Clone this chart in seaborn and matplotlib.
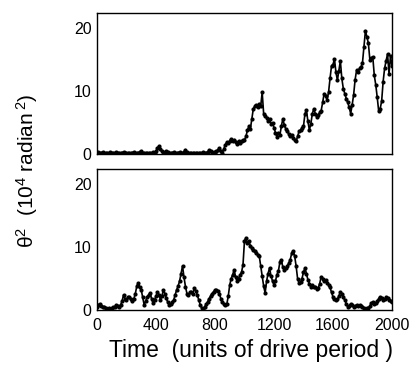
import numpy as np
import pandas as pd
import matplotlib
matplotlib.use("Agg")
import matplotlib.pyplot as plt
import seaborn as sns

time = list(range(0, 2001, 10))

theta2_top = [
    0.2, 0.3, 0.1, 0.2, 0.3, 0.1, 0.2, 0.2, 0.1, 0.3, 0.2, 0.1, 0.2, 0.3, 0.1, 0.2, 0.1, 0.2, 0.3, 0.1,
    0.2, 0.1, 0.2, 0.1, 0.2, 0.3, 0.2, 0.1, 0.2, 0.3, 0.5, 0.2, 0.1, 0.2, 0.1, 0.2, 0.1, 0.2, 0.3, 0.2,
    0.4, 0.9, 1.3, 0.8, 0.4, 0.3, 0.2, 0.5, 0.3, 0.2, 0.1, 0.2, 0.3, 0.2, 0.1, 0.2, 0.3, 0.2, 0.2, 0.3,
    0.7, 0.3, 0.2, 0.1, 0.2, 0.1, 0.1, 0.2, 0.1, 0.2, 0.1, 0.2, 0.3, 0.1, 0.2, 0.3, 0.6, 0.4, 0.2, 0.3,
    0.2, 0.4, 0.6, 0.9, 0.5, 0.2, 0.8, 1.5, 1.9, 1.7, 2.1, 2.4, 2.0, 2.3, 1.9, 1.6, 2.0, 1.8, 2.1, 2.2,
    2.2, 2.8, 3.8, 4.4, 4.0, 5.6, 7.2, 7.6, 7.8, 7.4, 8.0, 7.6, 9.8, 6.4, 6.0, 5.8, 5.2, 5.6, 4.8, 5.0,
    4.2, 3.4, 2.7, 3.4, 3.0, 4.4, 5.6, 4.6, 4.0, 3.6, 3.2, 2.9, 3.1, 2.6, 2.2, 2.0, 2.8, 3.6, 3.8, 4.1,
    4.4, 6.4, 7.0, 5.2, 3.8, 4.8, 6.4, 7.2, 6.4, 5.9, 6.2, 6.6, 6.9, 8.2, 9.6, 9.2, 8.6, 9.8, 12.0, 14.0,
    14.2, 15.1, 13.0, 11.7, 13.2, 14.8, 12.0, 10.4, 9.6, 8.8, 8.2, 7.4, 6.4, 7.8, 9.4, 11.8, 13.3, 13.0, 13.6, 13.8,
    14.5, 17.0, 19.6, 18.6, 17.6, 15.0, 15.2, 15.4, 12.5, 11.0, 9.0, 6.8, 7.2, 8.4, 11.5, 13.6, 14.8, 15.9, 12.7, 15.6,
    14.0,
]

theta2_bottom = [
    0.5, 0.8, 1.0, 0.7, 0.5, 0.4, 0.3, 0.2, 0.3, 0.2, 0.3, 0.4, 0.5, 0.8, 0.6, 0.5, 0.8, 1.4, 2.4, 1.8,
    1.6, 2.1, 2.0, 1.8, 1.5, 1.8, 2.6, 3.8, 4.3, 3.6, 3.2, 2.0, 0.8, 1.4, 2.1, 2.4, 2.7, 1.8, 1.1, 1.6,
    2.2, 2.9, 2.4, 1.6, 2.2, 3.2, 2.6, 1.9, 1.2, 0.8, 0.9, 1.3, 1.6, 2.4, 3.2, 3.8, 4.6, 5.8, 7.0, 5.2,
    3.7, 2.6, 2.4, 2.8, 2.9, 2.6, 3.5, 3.0, 2.4, 1.6, 0.8, 0.3, 0.2, 0.5, 0.9, 1.3, 1.8, 2.2, 2.6, 2.9,
    3.1, 3.2, 3.0, 2.6, 1.8, 1.2, 1.0, 0.8, 0.9, 2.2, 4.0, 5.0, 5.6, 6.4, 5.2, 4.6, 5.0, 5.6, 6.0, 7.2,
    11.0, 11.5, 10.6, 10.9, 10.2, 9.9, 9.6, 9.4, 9.0, 8.8, 8.6, 7.0, 5.4, 3.8, 2.7, 4.6, 5.8, 6.7, 5.4, 4.6,
    4.0, 4.6, 5.6, 6.2, 7.6, 8.0, 6.8, 6.4, 6.6, 7.0, 7.4, 8.0, 9.0, 9.4, 8.6, 7.0, 5.0, 4.3, 4.4, 5.0,
    6.0, 6.7, 5.8, 4.8, 4.2, 3.7, 3.9, 3.6, 3.7, 3.4, 3.5, 4.2, 5.3, 5.0, 4.6, 4.8, 4.3, 4.0, 3.6, 2.8,
    2.1, 1.8, 1.6, 1.7, 2.2, 2.9, 2.6, 2.0, 1.6, 1.0, 0.5, 0.7, 1.0, 0.8, 0.5, 0.6, 0.8, 0.6, 0.8, 0.6,
    0.4, 0.3, 0.2, 0.3, 0.3, 0.6, 1.1, 1.3, 1.0, 1.1, 1.4, 1.8, 2.1, 1.9, 1.6, 1.7, 2.0, 1.9, 1.6, 1.4,
    1.3,
]

x_ticks = [0, 400, 800, 1200, 1600, 2000]
y_ticks = [0, 10, 20]

sns.set_style("white")
plt.rcParams['font.family'] = ['Liberation Sans', 'DejaVu Sans']
plt.rcParams['mathtext.fontset'] = 'custom'
plt.rcParams['mathtext.rm'] = 'Liberation Sans'
plt.rcParams['mathtext.it'] = 'Liberation Sans'
plt.rcParams['text.color'] = 'black'
plt.rcParams['axes.labelcolor'] = 'black'

fig = plt.figure(figsize=(4.12, 3.74), dpi=100)
ax1 = fig.add_axes([0.2354, 0.5882, 0.716, 0.377])
ax2 = fig.add_axes([0.2354, 0.1711, 0.716, 0.377])

df_top = pd.DataFrame({"time": time, "theta2": theta2_top})
df_bot = pd.DataFrame({"time": time, "theta2": theta2_bottom})

for ax, df in ((ax1, df_top), (ax2, df_bot)):
    sns.lineplot(data=df, x="time", y="theta2", ax=ax, color="black",
                 linewidth=1.2, marker="o", markersize=3.0,
                 markeredgewidth=0, markerfacecolor="black")
    ax.set_xlim(0, 2000)
    ax.set_ylim(0, 22.4)
    ax.set_yticks(y_ticks)
    ax.set_xticks(x_ticks)
    ax.set_xlabel("")
    ax.set_ylabel("")
    ax.tick_params(axis="both", length=0, labelsize=11.5, colors="black")
    ax.tick_params(axis="y", pad=4)
    ax.tick_params(axis="x", pad=6)
    for s in ax.spines.values():
        s.set_color("black")
        s.set_linewidth(1.0)

ax1.set_xticklabels([])
ax2.set_xticklabels([str(t) for t in x_ticks])

fig.text(0.065, 0.543, "θ$^2$  (10$^4$ radian$\\,^2$)", rotation=90,
         ha="center", va="center", fontsize=15)
fig.text(0.61, 0.064, "Time  (units of drive period )", ha="center",
         va="center", fontsize=16.5)

fig.savefig("out.png", dpi=100)
